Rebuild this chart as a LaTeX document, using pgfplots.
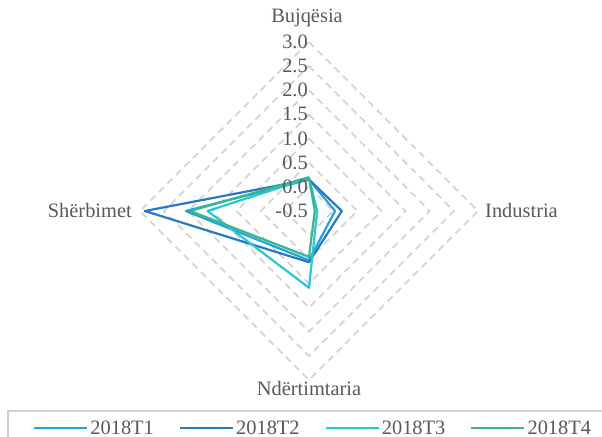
\documentclass[border=0pt]{standalone}
\usepackage{fontspec}
\setmainfont{Liberation Serif}
\usepackage{pgfplots}
\usepackage{pgfplotstable}
\pgfplotsset{compat=1.18}

\definecolor{cT1}{RGB}{30,165,225}
\definecolor{cT2}{RGB}{40,120,195}
\definecolor{cT3}{RGB}{38,200,215}
\definecolor{cT4}{RGB}{60,180,140}
\definecolor{gridc}{RGB}{208,208,208}
\definecolor{txt}{RGB}{89,89,89}

% radar values, angle: Bujqesia 90, Industria 0, Ndertimtaria 270, Sherbimet 180
\pgfplotstableread{
ang T1 T2 T3 T4
90 0.15 0.15 0.18 0.20
0 0.04 0.18 -0.33 -0.38
270 0.52 0.56 1.09 0.45
180 2.05 2.90 1.60 1.96
90 0.15 0.15 0.18 0.20
}\radar

\newcommand{\lbl}{\fontsize{20.5}{23}\selectfont}

\begin{document}
\begin{tikzpicture}
\path[use as bounding box] (-309bp,-226bp) rectangle (293bp,211bp);
\begin{axis}[
  hide axis, scale only axis, clip=false,
  width=338.1bp, height=338.1bp,
  at={(-169.05bp,-169.05bp)}, anchor=south west,
  xmin=-3.5, xmax=3.5, ymin=-3.5, ymax=3.5,
  legend columns=4,
  legend image code/.code={\draw[#1, line width=2.2bp] (0bp,0bp) -- (53bp,0bp);},
  legend style={draw=none, fill=none, at={(-0.3163,-0.1418)}, anchor=west,
    inner xsep=0pt, inner ysep=0pt, font=\lbl, text=txt,
    /tikz/every even column/.append style={column sep=23bp}},
  every axis plot/.append style={line width=2.2bp, line join=round},
]
\pgfplotsinvokeforeach{0.5,1,1.5,2,2.5,3,3.5}{
  \draw[gridc, line width=1.6bp, dash pattern=on 7bp off 5bp]
    (axis cs:0,#1) -- (axis cs:#1,0) -- (axis cs:0,-#1) -- (axis cs:-#1,0) -- cycle;
}
\addplot[cT1] table[x expr={(\thisrow{T1}+0.5)*cos(\thisrow{ang})}, y expr={(\thisrow{T1}+0.5)*sin(\thisrow{ang})}] {\radar};
\addlegendentry{2018T1}
\addplot[cT2] table[x expr={(\thisrow{T2}+0.5)*cos(\thisrow{ang})}, y expr={(\thisrow{T2}+0.5)*sin(\thisrow{ang})}] {\radar};
\addlegendentry{2018T2}
\addplot[cT3] table[x expr={(\thisrow{T3}+0.5)*cos(\thisrow{ang})}, y expr={(\thisrow{T3}+0.5)*sin(\thisrow{ang})}] {\radar};
\addlegendentry{2018T3}
\addplot[cT4] table[x expr={(\thisrow{T4}+0.5)*cos(\thisrow{ang})}, y expr={(\thisrow{T4}+0.5)*sin(\thisrow{ang})}] {\radar};
\addlegendentry{2018T4}
\end{axis}
% tick labels
\foreach \t [count=\i from 0] in {-0.5,0.0,0.5,1.0,1.5,2.0,2.5,3.0}
  \node[anchor=east, text=txt, font=\lbl, inner sep=0pt] at (-1bp,\i*24.15bp) {\t};
% category labels
\node[text=txt, font=\lbl, inner sep=0pt] at (-2bp,193bp) {Bujqësia};
\node[text=txt, font=\lbl, inner sep=0pt, anchor=west] at (176bp,0bp) {Industria};
\node[text=txt, font=\lbl, inner sep=0pt] at (0bp,-178bp) {Ndërtimtaria};
\node[text=txt, font=\lbl, inner sep=0pt, anchor=east] at (-177bp,0bp) {Shërbimet};
% legend frame
\draw[gridc, line width=1.2bp] (-301bp,-200bp) rectangle (300bp,-240bp);
\end{tikzpicture}
\end{document}
